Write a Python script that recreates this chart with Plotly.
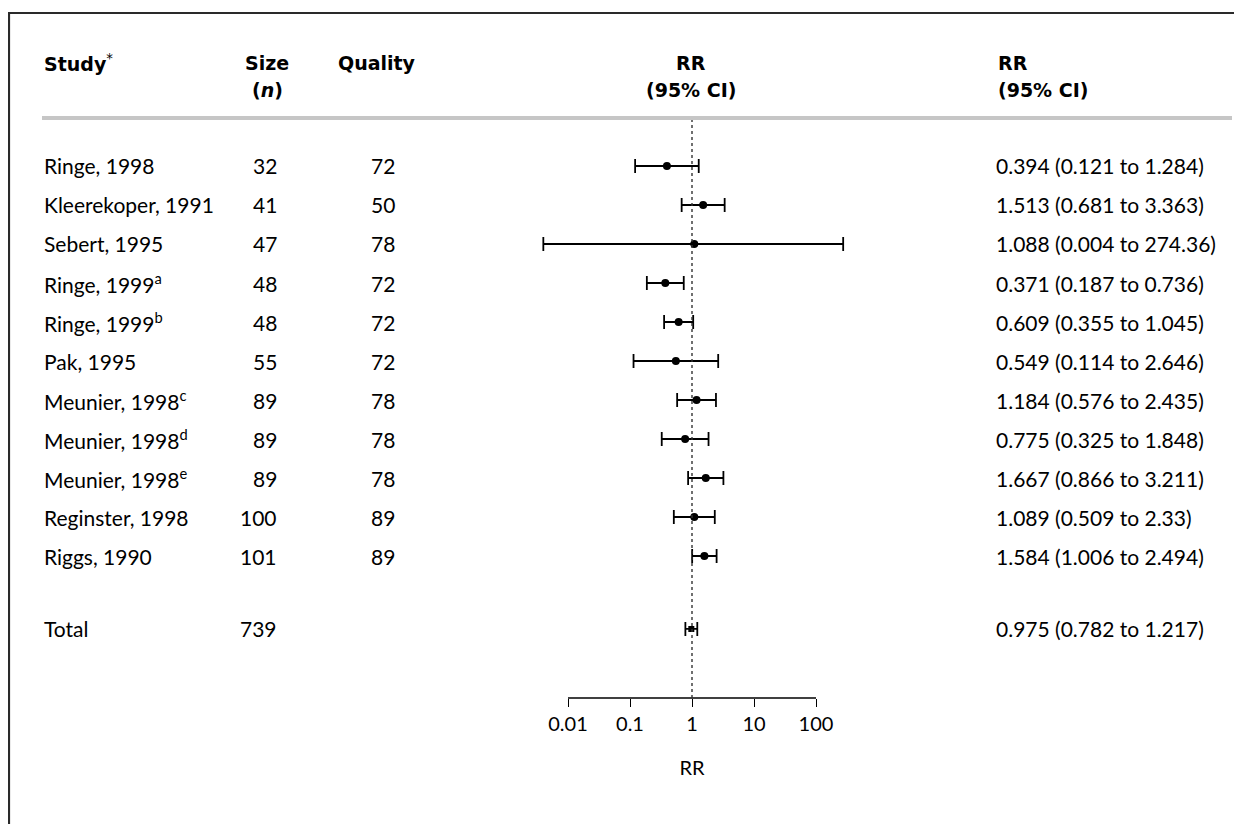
import plotly.graph_objects as go

studies = ["Ringe, 1998", "Kleerekoper, 1991", "Sebert, 1995", "Ringe, 1999<sup>a</sup>",
           "Ringe, 1999<sup>b</sup>", "Pak, 1995", "Meunier, 1998<sup>c</sup>",
           "Meunier, 1998<sup>d</sup>", "Meunier, 1998<sup>e</sup>", "Reginster, 1998", "Riggs, 1990"]
sizes = [32, 41, 47, 48, 48, 55, 89, 89, 89, 100, 101]
quality = [72, 50, 78, 72, 72, 72, 78, 78, 78, 89, 89]
rr = [0.394, 1.513, 1.088, 0.371, 0.609, 0.549, 1.184, 0.775, 1.667, 1.089, 1.584]
lo = [0.121, 0.681, 0.004, 0.187, 0.355, 0.114, 0.576, 0.325, 0.866, 0.509, 1.006]
hi = [1.284, 3.363, 274.36, 0.736, 1.045, 2.646, 2.435, 1.848, 3.211, 2.33, 2.494]
ci_text = ["0.394 (0.121 to 1.284)", "1.513 (0.681 to 3.363)", "1.088 (0.004 to 274.36)",
           "0.371 (0.187 to 0.736)", "0.609 (0.355 to 1.045)", "0.549 (0.114 to 2.646)",
           "1.184 (0.576 to 2.435)", "0.775 (0.325 to 1.848)", "1.667 (0.866 to 3.211)",
           "1.089 (0.509 to 2.33)", "1.584 (1.006 to 2.494)"]
total_label = "Total"
total_size = 739
total_rr, total_lo, total_hi = 0.975, 0.782, 1.217
total_text = "0.975 (0.782 to 1.217)"
tick_vals = [0.01, 0.1, 1, 10, 100]
tick_text = ["0.01", "0.1", "1", "10", "100"]

# page body has an 8px margin; figure is placed at (8, 8)
OFF = 8
FW, FH = 1234, 816
FONT = "Lato, 'Open Sans', sans-serif"
HFONT = "'DejaVu Sans', Lato, sans-serif"
FS = 21
HFS = 19


def px_x(p):
    return (p - OFF) / FW


def px_y(p):
    return 1 - (p - OFF) / FH


rows = list(range(len(studies)))
total_row = len(studies) + 0.87

axis_y_px = 698
top_y_px = 120
row0_px = 166
spacing = 39.0
y_top = -(row0_px - top_y_px) / spacing
y_bot = (axis_y_px - row0_px) / spacing

fig = go.Figure()

fig.add_trace(go.Scatter(
    x=rr, y=rows, mode="markers",
    marker=dict(color="black", size=8),
    error_x=dict(type="data", symmetric=False,
                 array=[h - r for h, r in zip(hi, rr)],
                 arrayminus=[r - l for r, l in zip(rr, lo)],
                 color="black", thickness=1.8, width=7),
    showlegend=False, hoverinfo="skip"))

fig.add_trace(go.Scatter(
    x=[total_rr], y=[total_row], mode="markers",
    marker=dict(color="black", size=6, symbol="square"),
    error_x=dict(type="data", symmetric=False,
                 array=[total_hi - total_rr], arrayminus=[total_rr - total_lo],
                 color="black", thickness=1.8, width=7),
    showlegend=False, hoverinfo="skip"))

# x axis: ~62 px per decade, RR = 1 at x = 692
ppd = 62.0
lo_dec, hi_dec = -2.7, 2.7
d0 = 692 + lo_dec * ppd
d1 = 692 + hi_dec * ppd

fig.update_layout(
    width=FW, height=FH, margin=dict(l=0, r=0, t=0, b=0),
    paper_bgcolor="white", plot_bgcolor="white",
    font=dict(family=FONT, size=FS, color="black"),
    xaxis=dict(type="log", range=[lo_dec, hi_dec], domain=[px_x(d0), px_x(d1)],
               anchor="free", position=px_y(axis_y_px),
               showgrid=False, zeroline=False, showline=False,
               tickvals=tick_vals, ticktext=tick_text, ticks="outside",
               ticklen=8, tickwidth=1.4, tickcolor="black",
               tickfont=dict(family=FONT, size=20),
               title=dict(text="RR", font=dict(family=FONT, size=20), standoff=26)),
    yaxis=dict(range=[y_bot, y_top], domain=[px_y(axis_y_px), px_y(top_y_px)],
               visible=False, showgrid=False, zeroline=False),
)

shapes = []
shapes.append(dict(type="line", xref="x", yref="paper", x0=0.01, x1=100,
                   y0=px_y(axis_y_px), y1=px_y(axis_y_px),
                   line=dict(color="black", width=1.4)))
shapes.append(dict(type="line", xref="x", yref="paper", x0=1, x1=1,
                   y0=px_y(axis_y_px), y1=px_y(top_y_px),
                   line=dict(color="#333", width=1.4, dash="dot")))
shapes.append(dict(type="line", xref="paper", yref="paper", x0=px_x(42), x1=px_x(1232),
                   y0=px_y(118), y1=px_y(118), line=dict(color="#c6c6c6", width=4)))
shapes.append(dict(type="line", xref="paper", yref="paper", x0=px_x(8), x1=1,
                   y0=px_y(13), y1=px_y(13), line=dict(color="#2a2a2a", width=2.2)))
shapes.append(dict(type="line", xref="paper", yref="paper", x0=px_x(9), x1=px_x(9),
                   y0=px_y(13), y1=0, line=dict(color="#2a2a2a", width=2.2)))
fig.update_layout(shapes=shapes)

ann = []


def text(x, y, s, xanchor="left", yref="paper", family=FONT, size=FS):
    ann.append(dict(x=x, y=y, xref="paper", yref=yref, text=s, showarrow=False,
                    xanchor=xanchor, yanchor="middle",
                    font=dict(family=family, size=size, color="black")))


def head(x, y, s, xanchor="left"):
    text(x, y, s, xanchor=xanchor, family=HFONT, size=HFS)


H1, H2 = 63, 90
head(px_x(42), px_y(H1), "<b>Study</b><sup>*</sup>")
head(px_x(267), px_y(H1), "<b>Size</b>", xanchor="center")
head(px_x(267), px_y(H2), "<b>(<i>n</i>)</b>", xanchor="center")
head(px_x(336), px_y(H1), "<b>Quality</b>")
head(px_x(691), px_y(H1), "<b>RR</b>", xanchor="center")
head(px_x(691), px_y(H2), "<b>(95% CI)</b>", xanchor="center")
head(px_x(996), px_y(H1), "<b>RR</b>")
head(px_x(996), px_y(H2), "<b>(95% CI)</b>")

for i, (s, n, q, t) in enumerate(zip(studies, sizes, quality, ci_text)):
    text(px_x(42), i, s, yref="y")
    text(px_x(279), i, str(n), xanchor="right", yref="y")
    text(px_x(383), i, str(q), xanchor="center", yref="y")
    text(px_x(994), i, t, yref="y")

text(px_x(42), total_row, total_label, yref="y")
text(px_x(279), total_row, str(total_size), xanchor="right", yref="y")
text(px_x(994), total_row, total_text, yref="y")

fig.update_layout(annotations=ann)

fig.write_html("out.html")
